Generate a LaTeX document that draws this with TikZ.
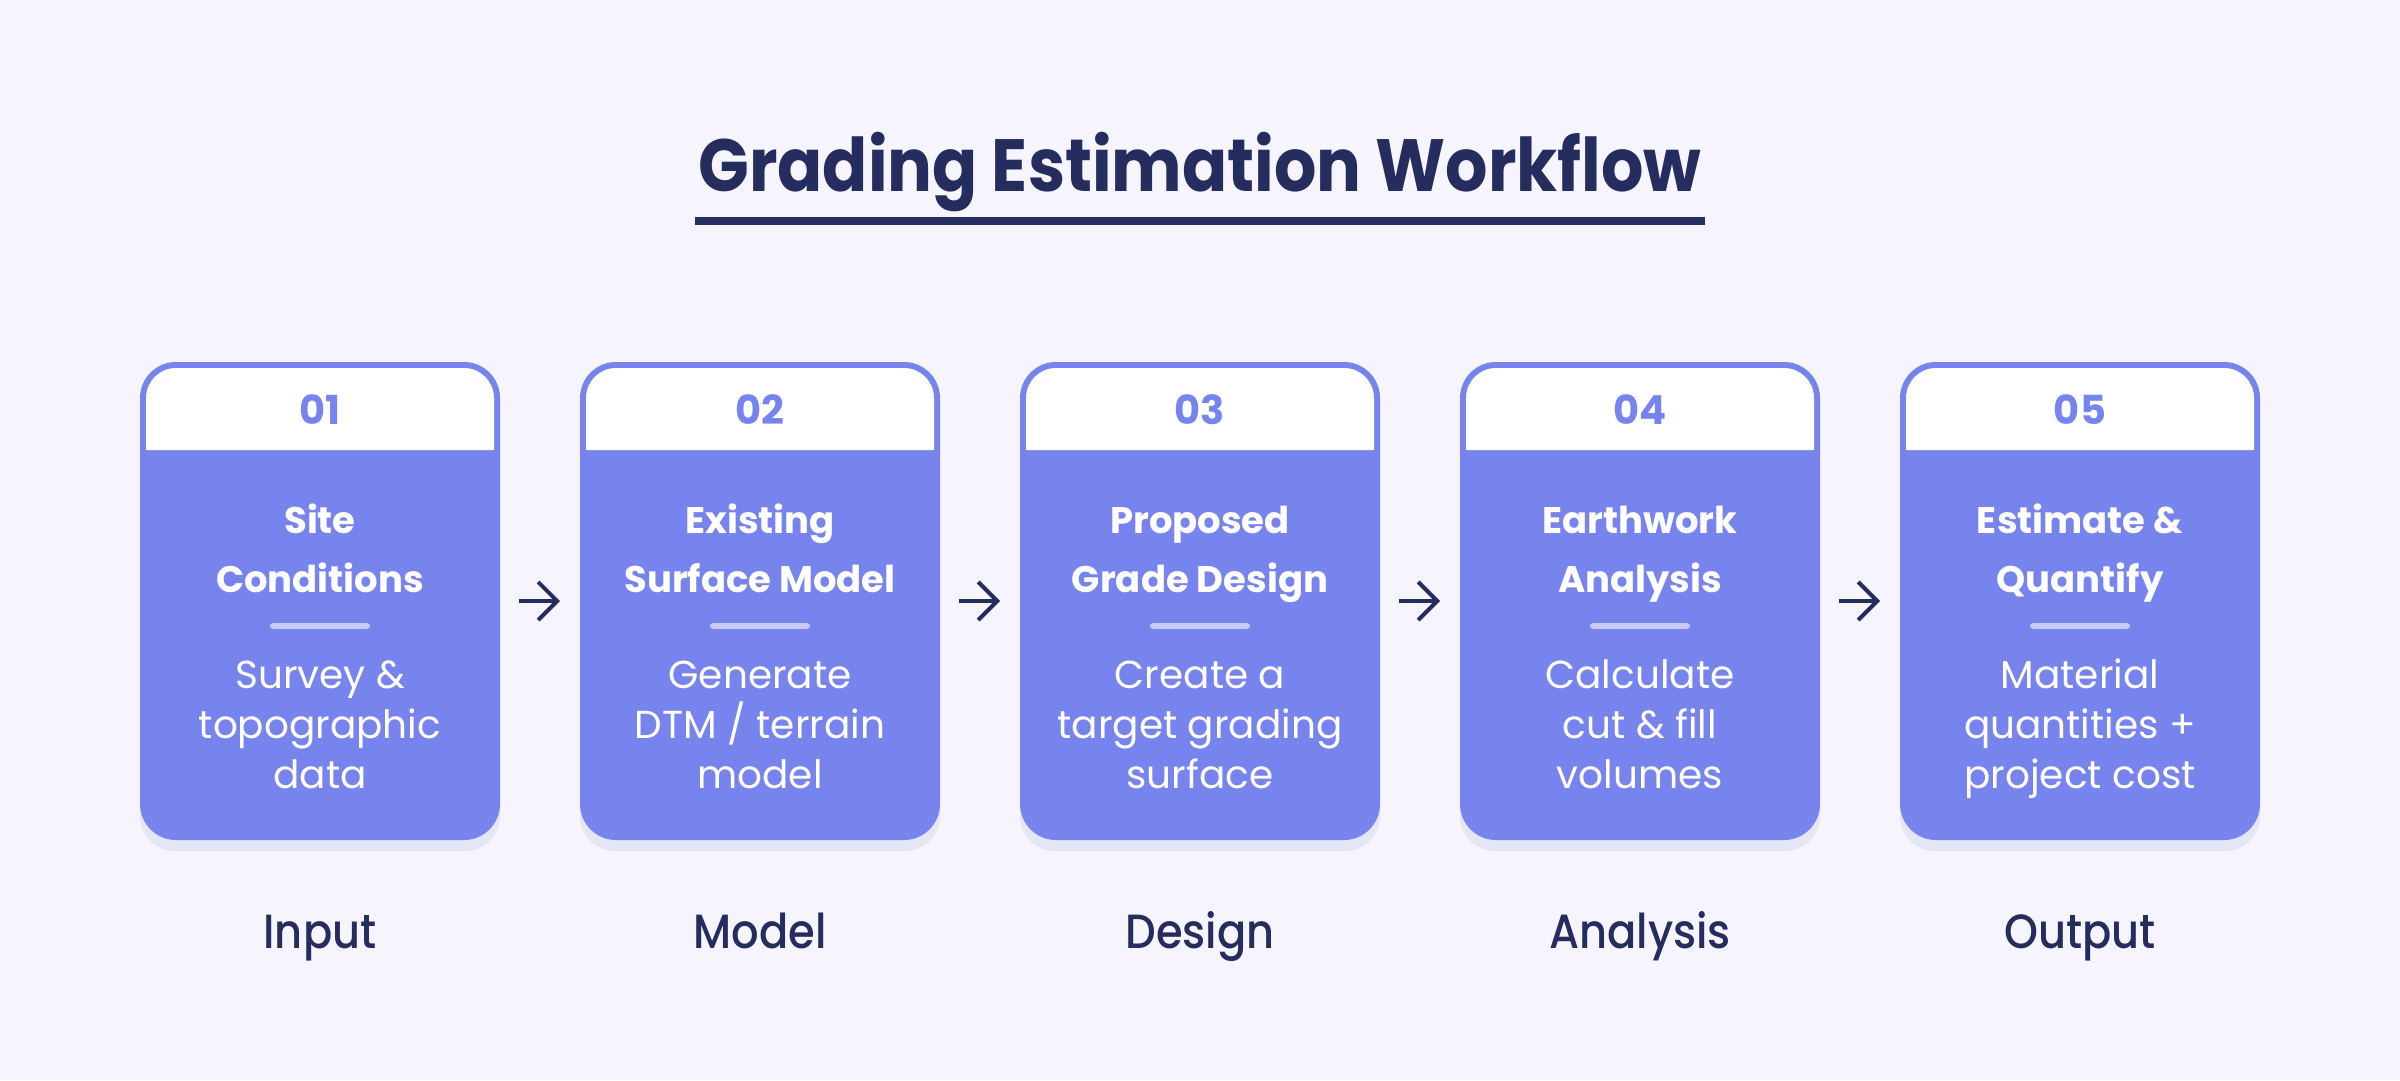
\documentclass[tikz,border=0pt]{standalone}
\usepackage{fontspec}
\setmainfont{Poppins}
\newfontfamily\popmed{Poppins}[UprightFont={* Medium}, FakeStretch=0.9]
\newfontfamily\poptitle{Poppins}[UprightFont={* Bold}, FakeStretch=0.9]
\usetikzlibrary{arrows.meta}
\definecolor{bg}{HTML}{F6F5FD}
\definecolor{navy}{HTML}{252C5E}
\definecolor{cardblue}{HTML}{7884EE}
\definecolor{sepc}{HTML}{C9CBF7}
\definecolor{shadowc}{HTML}{E4E6F6}
\tikzset{
  cardbox/.style={fill=cardblue, draw=cardblue, line width=6pt, rounded corners=33pt, minimum width=354pt, minimum height=472pt, inner sep=0pt},
  numtext/.style={anchor=base, inner sep=0pt, text=cardblue, font=\fontsize{40}{40}\selectfont\bfseries},
  ttltext/.style={anchor=base, inner sep=0pt, align=center, text=white, font=\fontsize{37}{59}\selectfont\bfseries},
  bodytext/.style={anchor=base, inner sep=0pt, align=center, text=white, font=\fontsize{39}{50}\selectfont},
  labtext/.style={anchor=base, inner sep=0pt, text=navy, font=\fontsize{48}{48}\selectfont\popmed},
  sepline/.style={draw=sepc, line width=6pt, line cap=round},
  flowarrow/.style={draw=navy, line width=4pt, -{Straight Barb[length=19pt, width=38pt]}, shorten <=19pt, shorten >=20pt}
}
\newcommand{\gecard}[6]{%
  \fill[shadowc, rounded corners=35pt] (#2-180,372) rectangle (#2+180,851);
  \node[cardbox] (card#1) at (#2,601) {};
  \fill[white] (#2-174,450) {[rounded corners=30pt] -- (#2-174,368) -- (#2+174,368)} -- (#2+174,450) -- cycle;
  \node[numtext] (num#1) at (#2,424) {0#1};
  \node[ttltext] (ttl#1) at (#2,592) {#3};
  \draw[sepline] (#2-47,626) -- (#2+47,626);
  \node[bodytext] (body#1) at (#2,788) {#4};
  \node[labtext] (lab#1) at (#2,948) {#5};
}
\begin{document}
\begin{tikzpicture}[x=1pt,y=-1pt]
\fill[bg] (0,0) rectangle (2400,1080);
\useasboundingbox (0,0) rectangle (2400,1080);
\node[anchor=base, inner sep=0pt, text=navy, font=\fontsize{74}{74}\selectfont\poptitle] (title) at (1200,191) {Grading Estimation Workflow};
\coordinate (ul) at (0,221);
\draw[navy, line width=8pt] ([xshift=-3pt]title.west |- ul) -- ([xshift=3pt]title.east |- ul);
\gecard{1}{320}{Site\\Conditions}{Survey \&\\topographic\\data}{Input}{}
\gecard{2}{760}{Existing\\Surface Model}{Generate\\DTM / terrain\\model}{Model}{}
\gecard{3}{1200}{Proposed\\Grade Design}{Create a\\target grading\\surface}{Design}{}
\gecard{4}{1640}{Earthwork\\Analysis}{Calculate\\cut \& fill\\volumes}{Analysis}{}
\gecard{5}{2080}{Estimate \&\\Quantify}{Material\\quantities +\\project cost}{Output}{}
\draw[flowarrow] (card1) -- (card2);
\draw[flowarrow] (card2) -- (card3);
\draw[flowarrow] (card3) -- (card4);
\draw[flowarrow] (card4) -- (card5);
\end{tikzpicture}
\end{document}
